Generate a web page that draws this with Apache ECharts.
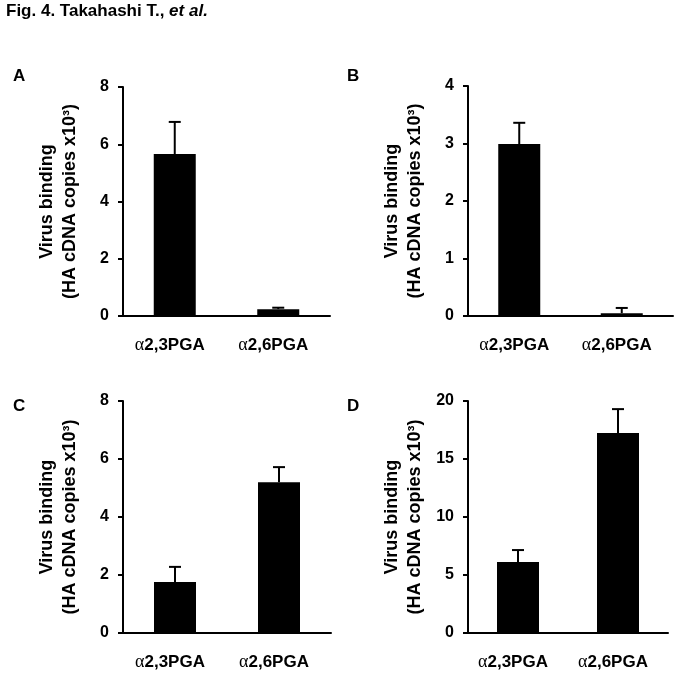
<!DOCTYPE html>
<html>
<head>
<meta charset="utf-8">
<script src="https://cdn.jsdelivr.net/npm/echarts@6/dist/echarts.min.js"></script>
<style>html,body{margin:0;padding:0;background:#fff}#c{width:683px;height:675px}</style>
</head>
<body>
<div id="c"></div>
<script>
const categories = ['α2,3PGA', 'α2,6PGA'];
const panelLetters = ['A', 'B', 'C', 'D'];
const meanA = [5.66, 0.24];
const errA = [1.12, 0.05];
const meanB = [2.99, 0.05];
const errB = [0.37, 0.09];
const meanC = [1.76, 5.20];
const errC = [0.52, 0.52];
const meanD = [6.12, 17.24];
const errD = [1.03, 2.06];
const yMax = [8, 4, 8, 20];
const yInterval = [2, 1, 2, 5];
const yName = 'Virus binding\n(HA cDNA copies x10³)';
const titleMain = 'Fig. 4. Takahashi T., ';
const titleItalic = 'et al.';

const means = [meanA, meanB, meanC, meanD];
const errs = [errA, errB, errC, errD];

const grids = [
  {left: 123, top: 87, width: 207, height: 229},
  {left: 468, top: 86, width: 205, height: 230},
  {left: 123, top: 401, width: 208, height: 232},
  {left: 468, top: 401, width: 200, height: 232}
];
const letterPos = [[13, 68], [347, 68], [13, 398], [347, 398]];

const FONT = 'Liberation Sans, Arial, sans-serif';
const xAxis = [], yAxis = [], series = [];
for (let i = 0; i < 4; i++) {
  xAxis.push({
    type: 'category', gridIndex: i, data: categories,
    axisLine: {lineStyle: {color: '#000', width: 2}},
    axisTick: {inside: true, length: 6, lineStyle: {color: '#000', width: 2}},
    axisLabel: {
      interval: 0, hideOverlap: false,
      margin: 20, color: '#000',
      formatter: v => '{a|' + v.charAt(0) + '}{b|' + v.slice(1) + '}',
      rich: {
        a: {fontFamily: 'Liberation Serif, Times New Roman, serif', fontSize: 18, color: '#000'},
        b: {fontFamily: FONT, fontWeight: 'bold', fontSize: 17, color: '#000', padding: [0, 10, 0, 0]}
      }
    }
  });
  yAxis.push({
    type: 'value', gridIndex: i, min: 0, max: yMax[i], interval: yInterval[i],
    name: yName, nameLocation: 'middle', nameRotate: 90, nameGap: 41,
    nameTextStyle: {fontFamily: FONT, fontWeight: 'bold', fontSize: 18, color: '#000', lineHeight: 23},
    axisLine: {show: true, lineStyle: {color: '#000', width: 2}},
    axisTick: {show: true, inside: false, length: 5, lineStyle: {color: '#000', width: 2}},
    axisLabel: {fontFamily: FONT, fontWeight: 'bold', fontSize: 16, color: '#000', margin: 14},
    splitLine: {show: false}
  });
  series.push({
    type: 'bar', xAxisIndex: i, yAxisIndex: i, data: means[i],
    barWidth: 42, itemStyle: {color: '#000'}, silent: true, z: 2
  });
  series.push({
    type: 'custom', xAxisIndex: i, yAxisIndex: i, z: 3, silent: true,
    data: means[i].map((m, j) => [j, m, errs[i][j]]),
    renderItem: (params, api) => {
      const x = api.value(0), m = api.value(1), e = api.value(2);
      const p0 = api.coord([x, m]);
      const p1 = api.coord([x, m + e]);
      const cap = 6;
      return {
        type: 'group',
        children: [
          {type: 'line', shape: {x1: p0[0], y1: p0[1], x2: p1[0], y2: p1[1]}, style: {stroke: '#000', lineWidth: 2}},
          {type: 'line', shape: {x1: p1[0] - cap, y1: p1[1], x2: p1[0] + cap, y2: p1[1]}, style: {stroke: '#000', lineWidth: 2}}
        ]
      };
    }
  });
}

const graphic = [{
  type: 'text', left: 6, top: 3,
  style: {
    text: '{n|' + titleMain + '}{i|' + titleItalic + '}',
    rich: {
      n: {fontFamily: FONT, fontWeight: 'bold', fontSize: 17, fill: '#000'},
      i: {fontFamily: FONT, fontWeight: 'bold', fontStyle: 'italic', fontSize: 17, fill: '#000'}
    }
  }
}];
panelLetters.forEach((L, i) => {
  graphic.push({type: 'text', left: letterPos[i][0], top: letterPos[i][1],
    style: {text: L, fontFamily: FONT, fontWeight: 'bold', fontSize: 17, fill: '#000'}});
});

const chart = echarts.init(document.getElementById('c'), null, {renderer: 'canvas'});
chart.setOption({
  animation: false,
  backgroundColor: '#fff',
  grid: grids,
  xAxis, yAxis, series, graphic
});
</script>
</body>
</html>
